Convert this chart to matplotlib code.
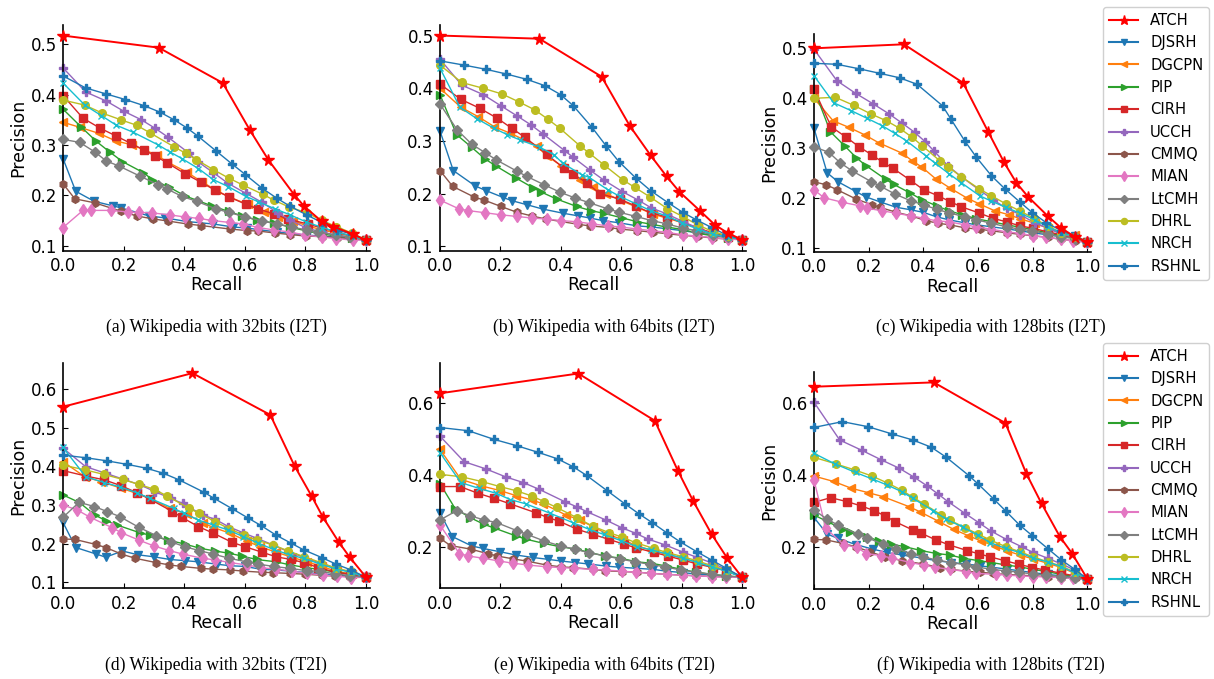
import matplotlib
matplotlib.use('Agg')
import matplotlib.pyplot as plt
from matplotlib.lines import Line2D

methods = ['ATCH', 'DJSRH', 'DGCPN', 'PIP', 'CIRH', 'UCCH', 'CMMQ', 'MIAN',
           'LtCMH', 'DHRL', 'NRCH', 'RSHNL']
colors = ['#ff0000', '#1f77b4', '#ff7f0e', '#2ca02c', '#d62728', '#9467bd',
          '#8c564b', '#e377c2', '#7f7f7f', '#bcbd22', '#17becf', '#1f77b4']
markers = ['*', 'v', '<', '>', 's', 'P', 'h', 'd', 'D', 'o', 'x', 'P']
captions = ['(a) Wikipedia with 32bits (I2T)', '(b) Wikipedia with 64bits (I2T)',
            '(c) Wikipedia with 128bits (I2T)', '(d) Wikipedia with 32bits (T2I)',
            '(e) Wikipedia with 64bits (T2I)', '(f) Wikipedia with 128bits (T2I)']

# ---------------- (a) 32 bits I2T ----------------
a_ATCH = [(0, .517), (.316, .493), (.527, .423), (.617, .329), (.678, .27), (.763, .201), (.796, .178), (.854, .148), (.891, .138), (.956, .123), (1, .111)]
a_DJSRH = [(0, .273), (.042, .208), (.103, .188), (.165, .179), (.191, .175), (.284, .159), (.338, .155), (.408, .148), (.496, .143), (.562, .137), (.607, .135), (.706, .127), (.805, .121), (.904, .117), (1, .111)]
a_DGCPN = [(0, .345), (.055, .335), (.118, .323), (.174, .308), (.228, .3), (.309, .28), (.342, .267), (.408, .246), (.458, .227), (.505, .21), (.547, .197), (.609, .182), (.662, .167), (.711, .157), (.759, .149), (.808, .139), (.856, .131), (.904, .125), (.954, .118), (1, .111)]
a_PIP = [(0, .371), (.061, .335), (.11, .307), (.154, .286), (.196, .267), (.265, .245), (.295, .231), (.351, .216), (.402, .199), (.491, .179), (.547, .168), (.59, .159), (.639, .151), (.695, .145), (.748, .137), (.805, .129), (.856, .123), (.904, .119), (.953, .116), (1, .111)]
a_CIRH = [(0, .398), (.066, .353), (.123, .333), (.174, .318), (.224, .303), (.267, .29), (.304, .278), (.342, .265), (.402, .243), (.455, .226), (.502, .21), (.547, .197), (.604, .182), (.643, .173), (.697, .163), (.741, .153), (.807, .143), (.854, .135), (.904, .127), (.953, .119), (1, .111)]
a_UCCH = [(0, .453), (.075, .405), (.143, .387), (.2, .367), (.258, .35), (.304, .333), (.345, .316), (.417, .283), (.444, .267), (.496, .245), (.544, .224), (.603, .204), (.657, .186), (.708, .165), (.749, .151), (.803, .135), (.854, .127), (.902, .121), (.954, .116), (1, .111)]
a_CMMQ = [(0, .223), (.039, .193), (.105, .185), (.193, .168), (.243, .159), (.298, .153), (.345, .149), (.411, .143), (.455, .14), (.551, .133), (.606, .13), (.645, .129), (.701, .125), (.75, .122), (.803, .119), (.854, .118), (.904, .116), (.954, .114), (1, .111)]
a_MIAN = [(0, .136), (.066, .17), (.094, .17), (.157, .17), (.213, .167), (.251, .166), (.295, .165), (.353, .161), (.402, .157), (.45, .154), (.491, .15), (.551, .146), (.595, .143), (.645, .136), (.697, .131), (.75, .127), (.799, .121), (.856, .117), (.902, .114), (.956, .111), (1, .111)]
a_LtCMH = [(0, .311), (.055, .305), (.105, .286), (.143, .268), (.185, .258), (.254, .238), (.314, .221), (.342, .213), (.392, .198), (.441, .188), (.505, .173), (.547, .166), (.602, .157), (.657, .149), (.706, .143), (.755, .137), (.805, .131), (.843, .127), (.9, .121), (.948, .117), (1, .111)]
a_DHRL = [(0, .389), (.072, .379), (.13, .363), (.19, .35), (.243, .339), (.287, .324), (.367, .296), (.406, .283), (.439, .271), (.496, .251), (.547, .234), (.595, .22), (.659, .202), (.697, .19), (.745, .177), (.805, .165), (.854, .15), (.902, .138), (.953, .125), (1, .111)]
a_NRCH = [(0, .423), (.072, .379), (.127, .358), (.176, .339), (.232, .325), (.314, .3), (.353, .286), (.392, .273), (.447, .253), (.496, .231), (.546, .217), (.603, .198), (.645, .187), (.7, .173), (.75, .161), (.803, .147), (.856, .136), (.904, .127), (.954, .119), (1, .111)]
a_RSHNL = [(0, .437), (.075, .413), (.143, .401), (.206, .39), (.267, .378), (.32, .365), (.366, .35), (.408, .334), (.444, .318), (.505, .288), (.558, .262), (.602, .241), (.657, .214), (.706, .194), (.75, .178), (.804, .161), (.854, .146), (.904, .131), (.953, .123), (1, .111)]

# ---------------- (b) 64 bits I2T ----------------
b_ATCH = [(0, .5), (.329, .494), (.535, .422), (.628, .329), (.697, .273), (.75, .233), (.792, .204), (.86, .168), (.91, .141), (.954, .125), (1, .113)]
b_DJSRH = [(0, .319), (.044, .244), (.116, .215), (.152, .206), (.209, .193), (.237, .187), (.289, .179), (.34, .171), (.408, .163), (.458, .158), (.496, .154), (.54, .149), (.592, .145), (.653, .139), (.702, .137), (.803, .13), (.899, .122), (.954, .117), (1, .113)]
b_DGCPN = [(0, .4), (.069, .364), (.127, .346), (.18, .327), (.232, .315), (.32, .291), (.353, .272), (.402, .253), (.463, .226), (.505, .212), (.551, .2), (.595, .188), (.65, .175), (.706, .161), (.75, .154), (.803, .145), (.854, .135), (.904, .125), (.954, .119), (1, .113)]
b_PIP = [(0, .388), (.055, .312), (.105, .288), (.149, .266), (.187, .252), (.251, .23), (.309, .211), (.336, .203), (.386, .19), (.452, .176), (.499, .168), (.542, .163), (.604, .154), (.653, .147), (.7, .142), (.75, .137), (.805, .132), (.854, .125), (.904, .12), (.954, .117), (1, .113)]
b_CIRH = [(0, .408), (.069, .379), (.132, .362), (.19, .343), (.238, .324), (.281, .307), (.353, .275), (.411, .248), (.439, .238), (.488, .22), (.529, .2), (.595, .19), (.65, .176), (.697, .164), (.75, .156), (.803, .145), (.854, .135), (.904, .125), (.954, .118), (1, .113)]
b_UCCH = [(0, .455), (.072, .406), (.143, .388), (.201, .367), (.254, .348), (.3, .331), (.342, .313), (.412, .282), (.441, .269), (.496, .245), (.542, .226), (.604, .204), (.656, .188), (.7, .173), (.75, .162), (.805, .147), (.854, .135), (.904, .123), (.954, .116), (1, .113)]
b_CMMQ = [(0, .244), (.042, .214), (.112, .194), (.146, .188), (.201, .176), (.254, .165), (.303, .158), (.351, .152), (.458, .142), (.496, .139), (.56, .136), (.595, .133), (.653, .13), (.706, .127), (.755, .124), (.805, .121), (.854, .119), (.904, .116), (.954, .114), (1, .113)]
b_MIAN = [(0, .188), (.064, .171), (.094, .168), (.149, .164), (.202, .16), (.254, .157), (.304, .154), (.353, .152), (.402, .149), (.452, .147), (.502, .143), (.557, .139), (.599, .137), (.653, .133), (.7, .13), (.75, .127), (.805, .122), (.849, .12), (.899, .117), (.954, .114), (1, .113)]
b_LtCMH = [(0, .37), (.057, .321), (.105, .294), (.149, .278), (.187, .264), (.254, .243), (.287, .233), (.345, .217), (.397, .203), (.447, .192), (.494, .183), (.557, .171), (.593, .165), (.648, .157), (.702, .149), (.75, .143), (.803, .135), (.849, .13), (.904, .122), (.954, .118), (1, .113)]
b_DHRL = [(0, .444), (.072, .411), (.143, .4), (.206, .389), (.262, .374), (.314, .359), (.358, .341), (.397, .324), (.463, .291), (.492, .278), (.542, .255), (.606, .226), (.645, .212), (.695, .194), (.752, .172), (.803, .157), (.853, .141), (.904, .128), (.954, .12), (1, .113)]
b_NRCH = [(0, .438), (.066, .364), (.123, .342), (.179, .324), (.223, .312), (.265, .302), (.331, .288), (.377, .274), (.406, .258), (.469, .236), (.494, .231), (.557, .207), (.595, .195), (.656, .179), (.697, .168), (.75, .158), (.8, .145), (.853, .133), (.904, .123), (.954, .118), (1, .113)]
b_RSHNL = [(0, .452), (.079, .444), (.152, .436), (.22, .427), (.287, .417), (.347, .405), (.399, .388), (.441, .367), (.503, .326), (.551, .29), (.592, .261), (.648, .23), (.697, .206), (.755, .183), (.803, .165), (.847, .151), (.899, .136), (.948, .122), (1, .113)]

# ---------------- (c) 128 bits I2T ----------------
c_ATCH = [(0, .5), (.329, .508), (.545, .431), (.637, .333), (.695, .272), (.74, .231), (.783, .203), (.854, .165), (.905, .14), (.954, .123), (1, .112)]
c_DJSRH = [(0, .34), (.048, .251), (.088, .233), (.155, .213), (.189, .203), (.246, .192), (.301, .182), (.354, .177), (.399, .172), (.448, .163), (.493, .157), (.551, .151), (.594, .147), (.649, .143), (.704, .139), (.752, .135), (.801, .131), (.854, .127), (.905, .123), (.954, .125), (1, .112)]
c_DGCPN = [(0, .4), (.07, .355), (.127, .342), (.185, .327), (.237, .311), (.323, .29), (.359, .275), (.393, .263), (.445, .239), (.496, .221), (.561, .2), (.604, .189), (.661, .175), (.713, .167), (.755, .159), (.807, .15), (.856, .14), (.905, .13), (.954, .127), (1, .112)]
c_PIP = [(0, .418), (.06, .333), (.112, .305), (.155, .281), (.191, .265), (.262, .238), (.291, .228), (.35, .211), (.396, .197), (.448, .185), (.494, .175), (.543, .167), (.594, .159), (.652, .153), (.704, .147), (.755, .142), (.801, .137), (.854, .131), (.905, .125), (.954, .12), (1, .112)]
c_CIRH = [(0, .418), (.063, .343), (.118, .322), (.165, .303), (.211, .287), (.252, .272), (.289, .26), (.35, .237), (.401, .217), (.454, .205), (.499, .193), (.539, .183), (.602, .171), (.654, .16), (.704, .153), (.752, .145), (.801, .14), (.854, .133), (.905, .127), (.954, .121), (1, .112)]
c_UCCH = [(0, .498), (.084, .435), (.152, .41), (.216, .389), (.274, .369), (.323, .35), (.368, .332), (.407, .313), (.438, .295), (.49, .265), (.539, .243), (.604, .217), (.655, .197), (.704, .18), (.755, .167), (.807, .151), (.856, .14), (.905, .128), (.954, .122), (1, .112)]
c_CMMQ = [(0, .233), (.045, .227), (.085, .217), (.152, .199), (.212, .187), (.24, .182), (.301, .172), (.354, .165), (.411, .155), (.454, .15), (.496, .147), (.551, .141), (.606, .138), (.649, .135), (.704, .131), (.752, .128), (.801, .125), (.854, .122), (.905, .118), (.954, .115), (1, .112)]
c_MIAN = [(0, .217), (.037, .201), (.104, .192), (.167, .185), (.194, .18), (.25, .175), (.301, .17), (.354, .165), (.402, .16), (.448, .155), (.494, .153), (.551, .147), (.594, .143), (.649, .138), (.704, .133), (.752, .13), (.801, .125), (.85, .122), (.905, .118), (.948, .115), (1, .112)]
c_LtCMH = [(0, .303), (.054, .292), (.096, .271), (.139, .255), (.21, .233), (.24, .225), (.298, .208), (.354, .195), (.401, .187), (.448, .178), (.494, .171), (.551, .163), (.594, .157), (.649, .15), (.704, .143), (.755, .138), (.799, .135), (.856, .128), (.905, .123), (.954, .119), (1, .112)]
c_DHRL = [(0, .4), (.078, .402), (.145, .386), (.207, .369), (.265, .355), (.313, .34), (.359, .322), (.396, .305), (.46, .275), (.49, .263), (.539, .243), (.604, .219), (.649, .205), (.701, .189), (.752, .175), (.804, .16), (.854, .145), (.905, .131), (.954, .122), (1, .112)]
c_NRCH = [(0, .445), (.072, .391), (.137, .375), (.194, .36), (.25, .345), (.295, .33), (.338, .315), (.409, .285), (.441, .271), (.494, .249), (.539, .231), (.606, .205), (.646, .195), (.701, .182), (.755, .17), (.807, .157), (.854, .143), (.905, .131), (.954, .123), (1, .112)]
c_RSHNL = [(0, .47), (.084, .468), (.165, .459), (.24, .45), (.313, .441), (.377, .428), (.47, .385), (.5, .359), (.551, .315), (.594, .282), (.649, .245), (.698, .219), (.752, .193), (.799, .171), (.85, .151), (.905, .135), (.954, .125), (1, .112)]

# ---------------- (d) 32 bits T2I ----------------
d_ATCH = [(0, .554), (.427, .641), (.684, .533), (.764, .401), (.821, .322), (.858, .268), (.91, .204), (.946, .165), (1, .113)]
d_DJSRH = [(0, .255), (.042, .19), (.11, .173), (.141, .165), (.196, .181), (.248, .171), (.3, .166), (.353, .159), (.402, .156), (.447, .153), (.507, .147), (.549, .143), (.601, .141), (.651, .134), (.701, .132), (.75, .129), (.805, .125), (.849, .122), (.899, .119), (.948, .116), (1, .113)]
d_DGCPN = [(0, .412), (.072, .373), (.127, .36), (.193, .343), (.243, .33), (.287, .317), (.353, .291), (.408, .277), (.463, .253), (.496, .242), (.551, .227), (.606, .207), (.65, .192), (.703, .178), (.755, .165), (.805, .153), (.854, .141), (.904, .128), (.954, .121), (1, .113)]
d_PIP = [(0, .326), (.055, .306), (.105, .274), (.143, .259), (.179, .248), (.254, .228), (.287, .222), (.347, .209), (.402, .199), (.452, .188), (.502, .181), (.549, .175), (.59, .168), (.639, .159), (.703, .153), (.75, .145), (.803, .138), (.854, .132), (.904, .126), (.954, .119), (1, .113)]
d_CIRH = [(0, .389), (.075, .375), (.136, .365), (.191, .35), (.243, .332), (.287, .315), (.361, .283), (.392, .268), (.447, .244), (.496, .227), (.559, .203), (.601, .192), (.656, .178), (.703, .166), (.753, .159), (.794, .151), (.843, .138), (.899, .126), (.948, .121), (1, .113)]
d_UCCH = [(0, .447), (.075, .399), (.141, .382), (.201, .366), (.254, .352), (.305, .334), (.355, .317), (.395, .304), (.461, .274), (.502, .263), (.546, .244), (.595, .228), (.639, .214), (.692, .197), (.744, .179), (.794, .165), (.851, .149), (.902, .136), (.95, .126), (1, .113)]
d_CMMQ = [(0, .212), (.039, .211), (.108, .198), (.141, .19), (.193, .173), (.239, .162), (.307, .151), (.351, .145), (.391, .141), (.455, .136), (.496, .134), (.551, .132), (.595, .129), (.656, .126), (.692, .125), (.748, .123), (.799, .121), (.854, .118), (.899, .116), (.948, .115), (1, .113)]
d_MIAN = [(0, .3), (.047, .287), (.09, .268), (.163, .241), (.193, .228), (.251, .209), (.3, .194), (.351, .182), (.395, .173), (.461, .162), (.502, .158), (.551, .151), (.606, .145), (.653, .138), (.703, .134), (.755, .129), (.805, .123), (.858, .119), (.904, .116), (.951, .112), (1, .113)]
d_LtCMH = [(0, .268), (.053, .307), (.103, .296), (.146, .283), (.187, .27), (.251, .242), (.307, .221), (.355, .205), (.402, .192), (.45, .182), (.496, .173), (.549, .162), (.606, .153), (.645, .147), (.695, .141), (.75, .136), (.805, .13), (.849, .128), (.899, .122), (.948, .117), (1, .113)]
d_DHRL = [(0, .403), (.072, .391), (.135, .379), (.198, .366), (.251, .353), (.3, .341), (.344, .323), (.417, .291), (.45, .278), (.502, .257), (.549, .238), (.598, .222), (.639, .209), (.692, .197), (.744, .181), (.796, .166), (.851, .151), (.902, .136), (.95, .128), (1, .113)]
d_NRCH = [(0, .449), (.075, .373), (.136, .358), (.187, .347), (.243, .332), (.287, .317), (.366, .291), (.4, .278), (.447, .261), (.496, .248), (.546, .235), (.595, .218), (.645, .201), (.695, .185), (.748, .171), (.794, .162), (.849, .147), (.902, .134), (.95, .126), (1, .113)]
d_RSHNL = [(0, .429), (.077, .422), (.146, .414), (.212, .405), (.276, .395), (.331, .382), (.383, .365), (.465, .333), (.499, .317), (.559, .29), (.609, .267), (.653, .247), (.703, .222), (.753, .201), (.794, .184), (.854, .164), (.901, .147), (.95, .132), (1, .113)]

# ---------------- (e) 64 bits T2I ----------------
e_ATCH = [(0, .626), (.458, .681), (.711, .55), (.788, .41), (.838, .327), (.899, .235), (.951, .168), (1, .115)]
e_DJSRH = [(0, .294), (.041, .228), (.105, .202), (.143, .195), (.198, .186), (.251, .177), (.307, .17), (.356, .165), (.402, .16), (.447, .156), (.491, .152), (.551, .146), (.593, .143), (.65, .14), (.706, .137), (.75, .132), (.803, .128), (.849, .124), (.899, .121), (.948, .117), (1, .115)]
e_DGCPN = [(0, .47), (.069, .387), (.136, .369), (.198, .356), (.251, .342), (.303, .33), (.342, .319), (.417, .288), (.463, .274), (.505, .256), (.557, .234), (.606, .219), (.653, .202), (.697, .191), (.75, .179), (.803, .168), (.852, .156), (.902, .143), (.948, .135), (1, .115)]
e_PIP = [(0, .375), (.05, .306), (.099, .281), (.146, .262), (.182, .251), (.251, .23), (.284, .221), (.344, .209), (.397, .2), (.452, .193), (.494, .184), (.546, .174), (.598, .168), (.65, .158), (.7, .154), (.75, .146), (.799, .137), (.849, .129), (.902, .123), (.948, .119), (1, .115)]
e_CIRH = [(0, .367), (.066, .367), (.127, .348), (.18, .334), (.232, .319), (.318, .294), (.356, .281), (.394, .271), (.452, .249), (.507, .234), (.56, .22), (.609, .207), (.648, .197), (.708, .184), (.755, .174), (.803, .163), (.852, .152), (.904, .142), (.948, .133), (1, .115)]
e_UCCH = [(0, .507), (.08, .436), (.152, .416), (.217, .394), (.276, .378), (.329, .359), (.413, .325), (.452, .311), (.487, .297), (.549, .274), (.601, .253), (.648, .237), (.689, .221), (.745, .205), (.804, .185), (.852, .17), (.902, .154), (.948, .137), (1, .115)]
e_CMMQ = [(0, .223), (.035, .203), (.103, .193), (.16, .18), (.19, .174), (.243, .166), (.287, .16), (.353, .149), (.4, .144), (.441, .142), (.505, .137), (.546, .133), (.601, .131), (.653, .129), (.7, .126), (.75, .123), (.803, .121), (.849, .119), (.899, .117), (.948, .116), (1, .115)]
e_MIAN = [(0, .26), (.064, .181), (.094, .174), (.143, .168), (.196, .16), (.243, .154), (.292, .149), (.353, .144), (.402, .142), (.443, .14), (.505, .137), (.551, .135), (.601, .132), (.65, .129), (.7, .126), (.75, .123), (.803, .121), (.849, .119), (.899, .117), (.948, .115), (1, .115)]
e_LtCMH = [(0, .274), (.055, .3), (.099, .286), (.147, .274), (.187, .267), (.256, .244), (.289, .234), (.344, .216), (.399, .202), (.447, .193), (.494, .183), (.551, .174), (.595, .166), (.645, .158), (.695, .151), (.744, .144), (.799, .135), (.849, .129), (.902, .123), (.948, .119), (1, .115)]
e_DHRL = [(0, .401), (.072, .394), (.138, .381), (.198, .367), (.254, .355), (.303, .341), (.345, .325), (.386, .309), (.452, .281), (.505, .257), (.56, .239), (.604, .226), (.648, .211), (.708, .195), (.75, .184), (.805, .172), (.854, .16), (.904, .146), (.95, .135), (1, .115)]
e_NRCH = [(0, .461), (.069, .378), (.129, .362), (.187, .348), (.232, .331), (.284, .319), (.364, .293), (.439, .267), (.494, .248), (.542, .234), (.598, .217), (.653, .2), (.7, .191), (.75, .18), (.803, .168), (.854, .156), (.902, .143), (.948, .132), (1, .115)]
e_RSHNL = [(0, .531), (.094, .522), (.179, .498), (.256, .48), (.325, .462), (.389, .444), (.441, .422), (.485, .398), (.554, .355), (.612, .319), (.659, .291), (.702, .267), (.75, .239), (.794, .214), (.852, .185), (.899, .163), (.948, .14), (1, .115)]

# ---------------- (f) 128 bits T2I ----------------
f_ATCH = [(0, .644), (.438, .656), (.7, .543), (.777, .402), (.832, .32), (.899, .228), (.944, .181), (1, .11)]
f_DJSRH = [(0, .281), (.048, .235), (.088, .223), (.152, .206), (.216, .193), (.267, .184), (.32, .177), (.399, .168), (.448, .161), (.502, .156), (.557, .152), (.606, .147), (.649, .143), (.704, .138), (.752, .133), (.801, .128), (.854, .123), (.905, .119), (.954, .114), (1, .11)]
f_DGCPN = [(0, .396), (.072, .381), (.137, .362), (.198, .35), (.252, .339), (.348, .311), (.387, .297), (.454, .271), (.511, .248), (.563, .231), (.61, .216), (.661, .202), (.704, .189), (.752, .177), (.801, .166), (.854, .154), (.905, .142), (.954, .126), (1, .11)]
f_PIP = [(0, .288), (.051, .269), (.106, .248), (.13, .242), (.194, .228), (.237, .216), (.283, .207), (.332, .2), (.393, .189), (.448, .181), (.496, .177), (.545, .168), (.604, .161), (.649, .156), (.704, .149), (.752, .144), (.801, .137), (.85, .131), (.905, .123), (.954, .117), (1, .11)]
f_CIRH = [(0, .323), (.061, .336), (.121, .325), (.173, .313), (.22, .3), (.261, .285), (.298, .269), (.362, .246), (.393, .237), (.445, .219), (.494, .205), (.561, .189), (.604, .18), (.643, .172), (.698, .161), (.75, .151), (.799, .142), (.846, .135), (.905, .126), (.954, .119), (1, .11)]
f_UCCH = [(0, .601), (.094, .496), (.176, .467), (.246, .441), (.311, .418), (.366, .393), (.413, .369), (.454, .346), (.49, .325), (.551, .293), (.602, .267), (.646, .244), (.704, .22), (.759, .2), (.801, .184), (.854, .168), (.905, .152), (.954, .135), (1, .11)]
f_CMMQ = [(0, .22), (.043, .219), (.106, .209), (.152, .2), (.204, .186), (.259, .172), (.323, .161), (.399, .152), (.46, .142), (.502, .137), (.557, .132), (.606, .129), (.655, .126), (.704, .123), (.752, .121), (.801, .119), (.854, .117), (.905, .114), (.954, .112), (1, .11)]
f_MIAN = [(0, .385), (.043, .251), (.109, .205), (.157, .198), (.191, .181), (.246, .175), (.287, .168), (.352, .156), (.401, .149), (.441, .143), (.496, .137), (.557, .131), (.594, .126), (.665, .123), (.704, .121), (.752, .119), (.801, .117), (.85, .116), (.905, .114), (.948, .112), (1, .11)]
f_LtCMH = [(0, .302), (.048, .276), (.088, .26), (.161, .234), (.194, .225), (.252, .207), (.301, .194), (.356, .181), (.399, .172), (.448, .163), (.502, .156), (.557, .149), (.594, .144), (.649, .137), (.701, .133), (.75, .129), (.801, .124), (.85, .121), (.905, .117), (.954, .114), (1, .11)]
f_DHRL = [(0, .448), (.079, .43), (.149, .413), (.212, .396), (.271, .376), (.32, .357), (.362, .337), (.401, .319), (.466, .288), (.496, .274), (.551, .253), (.6, .235), (.643, .219), (.701, .2), (.752, .186), (.801, .172), (.854, .158), (.905, .146), (.954, .129), (1, .11)]
f_NRCH = [(0, .459), (.076, .43), (.152, .406), (.216, .387), (.268, .371), (.32, .353), (.362, .334), (.435, .3), (.484, .276), (.545, .254), (.598, .232), (.645, .211), (.701, .195), (.752, .184), (.801, .168), (.854, .158), (.905, .144), (.954, .128), (1, .11)]
f_RSHNL = [(0, .531), (.104, .547), (.198, .533), (.285, .513), (.362, .496), (.429, .476), (.484, .448), (.567, .397), (.6, .374), (.659, .331), (.701, .299), (.752, .26), (.799, .23), (.856, .194), (.905, .163), (.954, .137), (1, .11)]

panels = [
    [a_ATCH, a_DJSRH, a_DGCPN, a_PIP, a_CIRH, a_UCCH, a_CMMQ, a_MIAN, a_LtCMH, a_DHRL, a_NRCH, a_RSHNL],
    [b_ATCH, b_DJSRH, b_DGCPN, b_PIP, b_CIRH, b_UCCH, b_CMMQ, b_MIAN, b_LtCMH, b_DHRL, b_NRCH, b_RSHNL],
    [c_ATCH, c_DJSRH, c_DGCPN, c_PIP, c_CIRH, c_UCCH, c_CMMQ, c_MIAN, c_LtCMH, c_DHRL, c_NRCH, c_RSHNL],
    [d_ATCH, d_DJSRH, d_DGCPN, d_PIP, d_CIRH, d_UCCH, d_CMMQ, d_MIAN, d_LtCMH, d_DHRL, d_NRCH, d_RSHNL],
    [e_ATCH, e_DJSRH, e_DGCPN, e_PIP, e_CIRH, e_UCCH, e_CMMQ, e_MIAN, e_LtCMH, e_DHRL, e_NRCH, e_RSHNL],
    [f_ATCH, f_DJSRH, f_DGCPN, f_PIP, f_CIRH, f_UCCH, f_CMMQ, f_MIAN, f_LtCMH, f_DHRL, f_NRCH, f_RSHNL],
]

yticks_list = [[0.1, 0.2, 0.3, 0.4, 0.5]] * 3 + [[0.1, 0.2, 0.3, 0.4, 0.5, 0.6],
                                                 [0.2, 0.4, 0.6], [0.2, 0.4, 0.6]]
ylims = [(0.090, 0.538), (0.092, 0.520), (0.0926, 0.528),
         (0.0845, 0.668), (0.0844, 0.711), (0.0817, 0.684)]

W, H = 1214, 679
# axes rectangles in pixels: left, top, right, bottom
rects = [(63, 25, 370, 250.7), (440, 25, 746, 250.7), (814, 34.3, 1091, 252),
         (63, 362.7, 370, 588.3), (440, 362.7, 746, 588.3), (814, 372.3, 1091, 589.3)]
cap_pos = [(216, 332), (604, 332), (991, 332), (216, 670), (604, 670), (991, 670)]

msizes = {'*': 8.5, 'v': 5.5, '<': 5.5, '>': 5.5, 's': 5.5, 'P': 6, 'h': 5.5,
          'd': 6.5, 'D': 5, 'o': 5.5, 'x': 5}

fig = plt.figure(figsize=(W / 100, H / 100), dpi=100)

for p, data in enumerate(panels):
    l, t, r, b = rects[p]
    ax = fig.add_axes([l / W, 1 - b / H, (r - l) / W, (b - t) / H])
    for i, series in enumerate(data):
        xs = [pt[0] for pt in series]
        ys = [pt[1] for pt in series]
        ax.plot(xs, ys, color=colors[i], marker=markers[i],
                markersize=msizes[markers[i]], linewidth=1.4 if i == 0 else 1.0,
                markeredgewidth=1.0, clip_on=False, zorder=10 if i == 0 else 2 + i * 0.1)
    ax.set_xlim(0, 1.013)
    ax.set_ylim(*ylims[p])
    ax.set_xticks([0, 0.2, 0.4, 0.6, 0.8, 1.0])
    ax.set_xticklabels(['0.0', '0.2', '0.4', '0.6', '0.8', '1.0'])
    ax.set_yticks(yticks_list[p])
    ax.set_yticklabels(['%.1f' % v for v in yticks_list[p]])
    ax.spines['top'].set_visible(False)
    ax.spines['right'].set_visible(False)
    ax.spines['left'].set_linewidth(1.2)
    ax.spines['bottom'].set_linewidth(1.2)
    ax.tick_params(direction='in', labelsize=12, pad=4.5, length=3.5)
    ax.set_xlabel('Recall', fontsize=12.5, labelpad=1)
    if p not in (1, 4):
        ax.set_ylabel('Precision', fontsize=12.5, labelpad=2)
    cx, cy = cap_pos[p]
    fig.text(cx / W, 1 - cy / H, captions[p], ha='center', va='baseline',
             fontsize=12.7, family='Liberation Serif')

handles = [Line2D([], [], color=colors[i], marker=markers[i],
                  markersize=msizes[markers[i]] * 0.8, linewidth=1.5)
           for i in range(len(methods))]
for top in (7, 343):
    fig.legend(handles, methods, loc='upper left',
               bbox_to_anchor=(1103 / W, 1 - top / H), borderaxespad=0,
               fontsize=10.6, numpoints=1, handlelength=2.0, labelspacing=0.5,
               framealpha=1.0, edgecolor='#d0d0d0')

fig.savefig('out.png', dpi=100)
